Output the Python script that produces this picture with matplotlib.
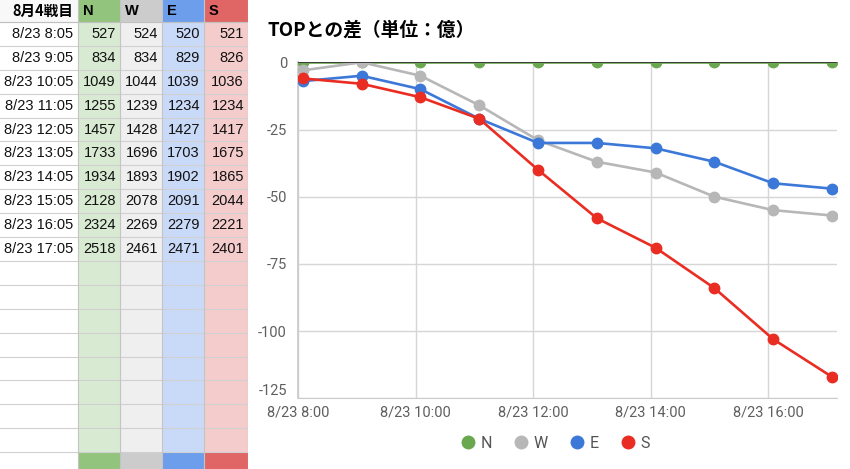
import matplotlib
matplotlib.use('Agg')
import matplotlib.pyplot as plt
from matplotlib.patches import Rectangle
from matplotlib.lines import Line2D

plt.rcParams['axes.unicode_minus'] = False

# datos de la tabla (totales por hora)
horas = ['8/23 8:05', '8/23 9:05', '8/23 10:05', '8/23 11:05', '8/23 12:05',
         '8/23 13:05', '8/23 14:05', '8/23 15:05', '8/23 16:05', '8/23 17:05']
total_N = [527, 834, 1049, 1255, 1457, 1733, 1934, 2128, 2324, 2518]
total_W = [524, 834, 1044, 1239, 1428, 1696, 1893, 2078, 2269, 2461]
total_E = [520, 829, 1039, 1234, 1427, 1703, 1902, 2091, 2279, 2471]
total_S = [521, 826, 1036, 1234, 1417, 1675, 1865, 2044, 2221, 2401]

# diferencia con el primero (grafica)
dif_N = [0, 0, 0, 0, 0, 0, 0, 0, 0, 0]
dif_W = [-3, 0, -5, -16, -29, -37, -41, -50, -55, -57]
dif_E = [-7, -5, -10, -21, -30, -30, -32, -37, -45, -47]
dif_S = [-6, -8, -13, -21, -40, -58, -69, -84, -103, -117]

equipos = ['N', 'W', 'E', 'S']
ticks_x = [8, 10, 12, 14, 16]
etiquetas_x = ['8/23 8:00', '8/23 10:00', '8/23 12:00', '8/23 14:00', '8/23 16:00']
ticks_y = [0, -25, -50, -75, -100, -125]

col_fuerte = ['#93c47d', '#cccccc', '#6d9eeb', '#e06666']
col_suave = ['#d9ead3', '#efefef', '#c9daf8', '#f4cccc']
col_linea = ['#6aa84f', '#b7b7b7', '#3c78d8', '#ea2d22']

W, H = 850, 469
fig = plt.figure(figsize=(8.5, 4.69), dpi=100)
fig.patch.set_facecolor('white')

# ---------------- tabla ----------------
ax_t = fig.add_axes([0, 0, 248 / W, 1])
ax_t.set_xlim(0, 248)
ax_t.set_ylim(H, 0)
ax_t.axis('off')

bordes = [0, 78, 120, 162, 204, 248]
y0 = 22
alto = 23.9
n_filas = 18

# encabezado
ax_t.add_patch(Rectangle((0, 0), 78, y0, color='#f8f8f8', lw=0))
ax_t.text(73, y0 / 2, '8月4戦目', ha='right', va='center', fontsize=10.5,
          fontweight='bold', family=['Noto Sans CJK JP', 'DejaVu Sans'])
for i, eq in enumerate(equipos):
    ax_t.add_patch(Rectangle((bordes[i + 1], 0), bordes[i + 2] - bordes[i + 1], y0,
                             color=col_fuerte[i], lw=0))
    ax_t.text(bordes[i + 1] + 5, y0 / 2, eq, ha='left', va='center', fontsize=10.5,
              fontweight='bold', family='Liberation Sans')
    # cuerpo y pie
    ax_t.add_patch(Rectangle((bordes[i + 1], y0), bordes[i + 2] - bordes[i + 1],
                             alto * n_filas, color=col_suave[i], lw=0))
    ax_t.add_patch(Rectangle((bordes[i + 1], y0 + alto * n_filas),
                             bordes[i + 2] - bordes[i + 1], H, color=col_fuerte[i], lw=0))

totales = [total_N, total_W, total_E, total_S]
for k, h in enumerate(horas):
    yc = y0 + alto * (k + 0.5)
    ax_t.text(73, yc, h, ha='right', va='center', fontsize=10.5, family='Liberation Sans',
              color='#111111')
    for i in range(4):
        ax_t.text(bordes[i + 2] - 4, yc, str(totales[i][k]), ha='right', va='center',
                  fontsize=10.5, family='Liberation Sans', color='#111111')

for k in range(n_filas + 1):
    ax_t.plot([0, 248], [y0 + alto * k] * 2, color='#d0d0d0', lw=0.8)
ax_t.plot([0, 248], [y0, y0], color='#c0c0c0', lw=0.8)
for b in bordes[1:]:
    ax_t.plot([b, b], [0, H], color='#c4c4c4', lw=0.8)

# ---------------- grafica ----------------
x = []
for h in horas:
    hh, mm = h.split(' ')[1].split(':')
    x.append(int(hh) + int(mm) / 60)

ax = fig.add_axes([298 / W, 1 - 398.3 / H, (837 - 298) / W, (398.3 - 62.3) / H])
series = [dif_N, dif_W, dif_E, dif_S]
for i, s in enumerate(series):
    ax.plot(x, s, color=col_linea[i], lw=1.9, marker='o', markersize=7.5, zorder=3 + i)
ax.axhline(0, color='#3d3d3d', lw=1.4, zorder=10)

ax.set_xlim(8, 17.17)
ax.set_ylim(-125, 0)
ax.set_xticks(ticks_x)
ax.set_xticklabels(etiquetas_x)
ax.set_yticks(ticks_y)
ax.grid(color='#d6d6d6', lw=1)
ax.set_axisbelow(True)
for lado in ['top', 'right']:
    ax.spines[lado].set_visible(False)
ax.spines['left'].set_color('#cccccc')
ax.spines['bottom'].set_color('#cccccc')
ax.spines['left'].set_linewidth(1.3)
ax.tick_params(length=0, colors='#5f5f5f', labelsize=10.5)
ax.tick_params(axis='y', pad=8)
ax.tick_params(axis='x', pad=5)
for t in ax.get_xticklabels() + ax.get_yticklabels():
    t.set_family('Roboto')
# la etiqueta -125 un poco arriba, como en el original
ax.get_yticklabels()[-1].set_va('bottom')

fig.text(268 / W, 1 - 30 / H, 'TOPとの差（単位：億）', ha='left', va='center',
         fontsize=13.5, fontweight='bold', family=['Noto Sans CJK JP', 'DejaVu Sans'])

manejadores = [Line2D([], [], ls='none', marker='o', markersize=9, color=c) for c in col_linea]
ley = fig.legend(manejadores, equipos, loc='center', bbox_to_anchor=(555 / W, 1 - 443 / H),
                 ncol=4, frameon=False, handlelength=1, handletextpad=0.3,
                 columnspacing=1.3, labelcolor='#555555',
                 prop={'family': 'Roboto', 'size': 11.5})

fig.savefig('out.png', dpi=100)
